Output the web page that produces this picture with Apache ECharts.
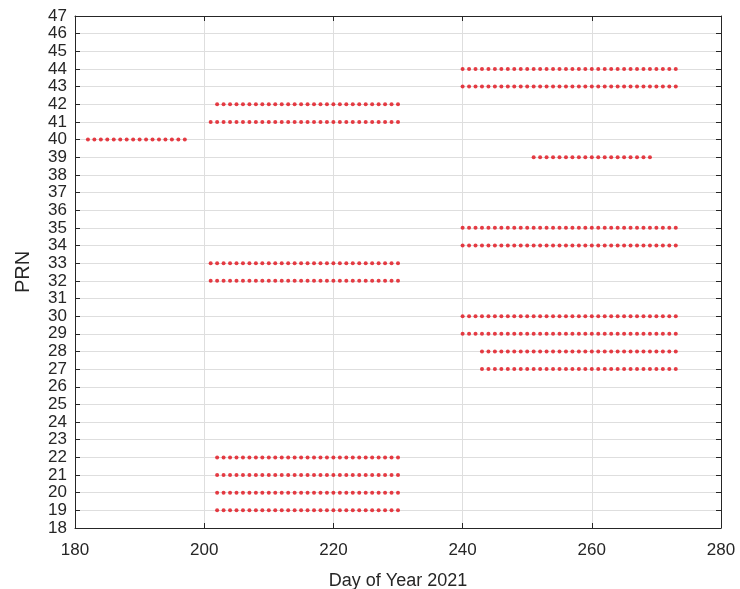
<!DOCTYPE html>
<html>
<head>
<meta charset="utf-8">
<script src="https://cdn.jsdelivr.net/npm/echarts@6/dist/echarts.min.js"></script>
<style>
  html, body { margin: 0; padding: 0; background: #fff; }
  #chart { width: 740px; height: 589px; }
</style>
</head>
<body>
<div id="chart"></div>
<script>
// each satellite: PRN, first and last day it was seen (one dot per day)
var prns      = [40,  41,  42,  32,  33,  19,  20,  21,  22,  43,  44,  39,  34,  35,  29,  30,  27,  28];
var firstDays = [182, 201, 202, 201, 201, 202, 202, 202, 202, 240, 240, 251, 240, 240, 240, 240, 243, 243];
var lastDays  = [197, 230, 230, 230, 230, 230, 230, 230, 230, 273, 273, 269, 273, 273, 273, 273, 273, 273];

var X_MIN = 180, X_MAX = 280, X_STEP = 20;
var Y_MIN = 18, Y_MAX = 47;

var AXIS_COLOR = '#262626';
var FONT = 'Liberation Sans, Arial, sans-serif';

var points = [];
for (var i = 0; i < prns.length; i++) {
  for (var d = firstDays[i]; d <= lastDays[i]; d++) {
    points.push([d, prns[i]]);
  }
}

var chart = echarts.init(document.getElementById('chart'));

var xBase = {
  type: 'value', min: X_MIN, max: X_MAX, interval: X_STEP,
  axisLine: { show: true, onZero: false, lineStyle: { color: AXIS_COLOR, width: 1 } },
  axisTick: { show: true, inside: true, length: 5, lineStyle: { color: AXIS_COLOR } }
};
var yBase = {
  type: 'value', min: Y_MIN, max: Y_MAX, interval: 1,
  axisLine: { show: true, onZero: false, lineStyle: { color: AXIS_COLOR, width: 1 } },
  axisTick: { show: true, inside: true, length: 5, lineStyle: { color: AXIS_COLOR } }
};

chart.setOption({
  animation: false,
  textStyle: { fontFamily: FONT },
  grid: { left: 75, right: 19, top: 16, bottom: 61, containLabel: false, outerBoundsMode: 'none' },
  xAxis: [
    Object.assign({}, xBase, {
      position: 'bottom',
      name: 'Day of Year 2021',
      nameLocation: 'middle',
      nameGap: 44,
      nameTextStyle: { color: AXIS_COLOR, fontSize: 18, fontFamily: FONT },
      axisLabel: { color: AXIS_COLOR, fontSize: 17, margin: 14, fontFamily: FONT },
      splitLine: { show: true, lineStyle: { color: '#dedede', width: 1 } }
    }),
    Object.assign({}, xBase, {
      position: 'top',
      axisLabel: { show: false },
      splitLine: { show: false }
    })
  ],
  yAxis: [
    Object.assign({}, yBase, {
      position: 'left',
      name: 'PRN',
      nameLocation: 'middle',
      nameGap: 42,
      nameRotate: 90,
      nameTextStyle: { color: AXIS_COLOR, fontSize: 20, fontFamily: FONT },
      axisLabel: { color: AXIS_COLOR, fontSize: 17, margin: 8, fontFamily: FONT },
      splitLine: { show: true, lineStyle: { color: '#dedede', width: 1 } }
    }),
    Object.assign({}, yBase, {
      position: 'right',
      axisLabel: { show: false },
      splitLine: { show: false }
    })
  ],
  series: [{
    type: 'scatter',
    xAxisIndex: 0,
    yAxisIndex: 0,
    symbol: 'circle',
    symbolSize: 4,
    itemStyle: { color: '#e00d16' },
    data: points
  }]
});
</script>
</body>
</html>
